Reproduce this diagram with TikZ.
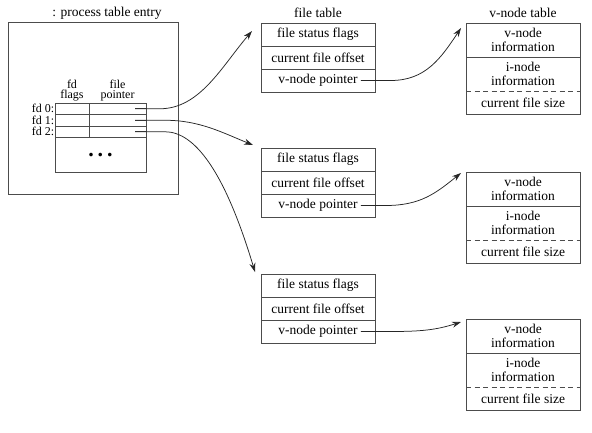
\documentclass[tikz,border=0pt]{standalone}
\usepackage{fontspec}
\setmainfont{Liberation Serif}
\usetikzlibrary{arrows.meta}

% one open file table: three stacked rows, #1 = name prefix, #2 = top edge
\newcommand\filetable[2]{%
  \node[cell, minimum height=23pt] (#1a) at (261,#2) {file status flags};
  \node[cell, minimum height=23pt, anchor=north] (#1b) at (#1a.south) {current file offset};
  \node[cell, minimum height=23pt, anchor=north] (#1c) at (#1b.south) {};
  \node[txt] (#1vp) at (#1c.center) {v-node pointer};
}

% one v-node entry: solid rule between the first two rows, dashed above the last
\newcommand\vnodetable[2]{%
  \node[cell, minimum height=34pt] (#1a) at (466,#2) {v-node\\information};
  \node[cell, draw=none, minimum height=34pt, anchor=north] (#1b) at (#1a.south) {i-node\\information};
  \node[cell, draw=none, minimum height=23pt, anchor=north] (#1c) at (#1b.south) {current file size};
  \draw[rule] (#1b.north west) rectangle (#1c.south east);
  \draw[rule, dashed, dash pattern=on 5pt off 3.5pt] (#1c.north west) -- (#1c.north east);
}

\begin{document}
\begin{tikzpicture}[x=1pt, y=-1pt,
  txt/.style={font=\fontsize{13.5}{14.5}\selectfont, inner sep=1pt, align=center},
  small/.style={font=\fontsize{12}{10.5}\selectfont, inner sep=0.5pt, align=center},
  rule/.style={draw=black!70, line width=0.8pt},
  cell/.style={rule, txt, minimum width=114pt, anchor=north west, inner sep=0pt, outer sep=0pt},
  slot/.style={rule, minimum height=11.5pt, anchor=north west, inner sep=0pt, outer sep=0pt},
  ptr/.style={draw=black!85, line width=0.75pt, -{Stealth[length=9pt, width=6pt]}},
]
\useasboundingbox (0,0) rectangle (592,432);

% process table entry
\node[txt] (proctitle) at (107,13) {: process table entry};
\node[rule, minimum width=170pt, minimum height=172pt, anchor=north west,
      inner sep=0pt, outer sep=0pt] (proc) at (8,22) {};

\foreach \i/\y in {0/103, 1/114.5, 2/126} {
  \node[slot, minimum width=34pt] (flag\i) at (55,\y) {};
  \node[slot, minimum width=57pt] (fptr\i) at (89,\y) {};
  \node[small, anchor=east] (fdlab\i) at (flag\i.west) {fd \i:};
  \coordinate (p\i) at ([xshift=-11pt]fptr\i.east);
  \draw[rule] (p\i) -- (fptr\i.east);
}
\node[slot, minimum width=91pt, minimum height=34.5pt,
      font=\fontsize{22}{22}\selectfont\bfseries] (rest) at (55,137.5)
      {.\hspace{4pt}.\hspace{4pt}.};
\node[small, anchor=south] (hflags) at ([yshift=1pt]flag0.north) {fd\\flags};
\node[small, anchor=south] (hptr) at ([yshift=1pt]fptr0.north) {file\\pointer};

% file tables
\node[txt] (fttitle) at (318,13) {file table};
\filetable{ft1}{23}
\filetable{ft2}{148}
\filetable{ft3}{274}

% v-node tables
\node[txt] (vttitle) at (523,13) {v-node table};
\vnodetable{vn1}{23}
\vnodetable{vn2}{172}
\vnodetable{vn3}{319}

% descriptor pointers into the file table
\draw[ptr] (p0) -- ++(25,0)
  .. controls +(40,0) and +(-30,35) .. ([xshift=-9pt, yshift=-8pt]ft1a.north west);
\draw[ptr] (p1) -- ++(30,0)
  .. controls +(35,0) and +(-30,-12) .. ([xshift=-8pt, yshift=3pt]ft2a.north west);
\draw[ptr] (p2) -- ++(30,0)
  .. controls +(30,0) and +(-30,-100) .. ([xshift=-6pt, yshift=2pt]ft3a.north west);

% file table entries pointing to v-nodes
\draw[ptr] ([xshift=2pt]ft1vp.east) -- ++(30,0)
  .. controls +(35,0) and +(-20,30) .. ([xshift=-5pt, yshift=-5pt]vn1a.north west);
\draw[ptr] ([xshift=2pt]ft2vp.east) -- ++(25,0)
  .. controls +(35,0) and +(-25,20) .. ([xshift=-5pt, yshift=-1pt]vn2a.north west);
\draw[ptr] ([xshift=2pt]ft3vp.east) -- ++(30,0)
  .. controls +(30,0) and +(-25,8) .. ([xshift=-5pt, yshift=-3pt]vn3a.north west);
\end{tikzpicture}
\end{document}
